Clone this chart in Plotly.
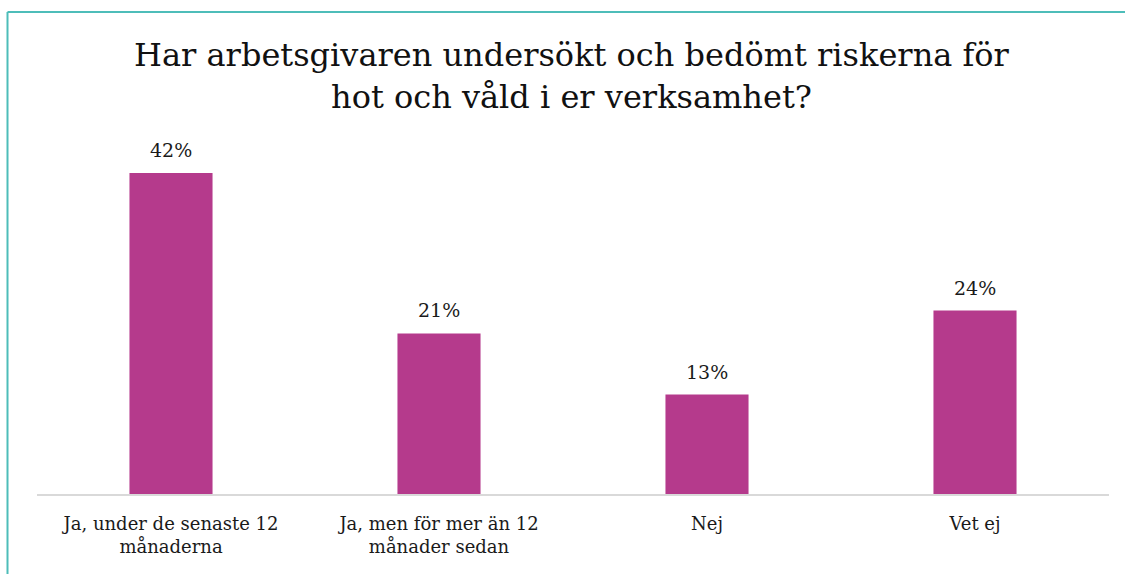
import plotly.graph_objects as go

categories = ["Ja, under de senaste 12<br>månaderna", "Ja, men för mer än 12<br>månader sedan", "Nej", "Vet ej"]
values = [42, 21, 13, 24]
labels = ["42%", "21%", "13%", "24%"]

W, H = 1125, 574
ml, mr, mt, mb = 37, 16, 140, 80
pw, ph = W - ml - mr, H - mt - mb
SERIF = "DejaVu Serif"
TXT = "#1a1a1a"

fig = go.Figure(go.Bar(
    x=categories, y=values,
    marker=dict(color="#B53A8C", line=dict(width=0)),
    width=0.31, hoverinfo="x+y",
))

for c, v, t in zip(categories, values, labels):
    fig.add_annotation(x=c, y=v, text=t, showarrow=False, yanchor="bottom",
                       yshift=10, font=dict(family=SERIF, size=19, color=TXT))

def px_x(x):
    return (x - ml) / pw

def px_y(y):
    return (H - mb - y) / ph

fig.update_layout(
    width=W, height=H,
    margin=dict(l=ml, r=mr, t=mt, b=mb),
    paper_bgcolor="white", plot_bgcolor="white",
    title=dict(
        text="Har arbetsgivaren undersökt och bedömt riskerna för<br>hot och våld i er verksamhet?",
        x=0.508, xanchor="center", y=1 - 66 / H, yanchor="middle",
        font=dict(family=SERIF, size=32, color="#111111"),
    ),
    xaxis=dict(showline=True, linecolor="#d9d9d9", linewidth=2, ticks="",
               tickfont=dict(family=SERIF, size=18, color=TXT),
               ticklabelstandoff=12, showgrid=False),
    yaxis=dict(range=[0, 46.3], visible=False, showgrid=False),
    showlegend=False,
    shapes=[
        dict(type="line", xref="paper", yref="paper", x0=px_x(7.5), x1=px_x(W + 5),
             y0=px_y(12), y1=px_y(12), line=dict(color="#4DBDB9", width=2)),
        dict(type="line", xref="paper", yref="paper", x0=px_x(7.5), x1=px_x(7.5),
             y0=px_y(12), y1=px_y(H + 5), line=dict(color="#4DBDB9", width=2)),
    ],
)

fig.write_html("out.html", config={"displayModeBar": False},
               post_script="document.body.style.margin='0';")
